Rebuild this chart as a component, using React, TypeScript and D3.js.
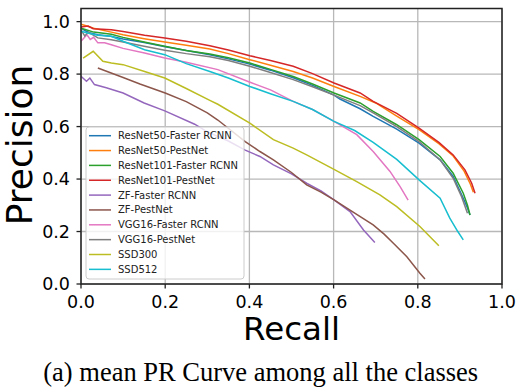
import React from "react";
import * as d3 from "d3";

// PR curves: [recall, precision]
const resnet50Faster: [number, number][] = [
  [0, 0.976], [0.01, 0.965], [0.02, 0.958], [0.04, 0.95], [0.07, 0.944], [0.1, 0.934],
  [0.15, 0.92], [0.2, 0.904], [0.25, 0.89], [0.306, 0.874], [0.35, 0.858], [0.401, 0.838],
  [0.45, 0.815], [0.504, 0.786], [0.55, 0.757], [0.601, 0.72], [0.615, 0.705], [0.663, 0.668],
  [0.694, 0.639], [0.75, 0.59], [0.803, 0.537], [0.853, 0.473], [0.884, 0.41], [0.908, 0.327],
  [0.918, 0.29], [0.924, 0.263],
];
const resnet50Pest: [number, number][] = [
  [0, 0.99], [0.01, 0.985], [0.03, 0.975], [0.072, 0.96], [0.1, 0.95], [0.15, 0.935],
  [0.199, 0.922], [0.25, 0.91], [0.306, 0.896], [0.35, 0.878], [0.401, 0.855], [0.45, 0.834],
  [0.504, 0.81], [0.55, 0.785], [0.601, 0.753], [0.663, 0.715], [0.7, 0.69], [0.75, 0.64],
  [0.803, 0.588], [0.85, 0.535], [0.884, 0.488], [0.91, 0.43], [0.925, 0.38], [0.932, 0.35],
];
const resnet101Faster: [number, number][] = [
  [0, 0.975], [0.01, 0.97], [0.03, 0.96], [0.072, 0.952], [0.1, 0.94], [0.15, 0.922],
  [0.199, 0.906], [0.25, 0.89], [0.306, 0.877], [0.35, 0.862], [0.401, 0.842], [0.45, 0.818],
  [0.504, 0.791], [0.55, 0.762], [0.601, 0.728], [0.663, 0.69], [0.694, 0.658], [0.75, 0.607],
  [0.803, 0.55], [0.853, 0.486], [0.884, 0.422], [0.908, 0.346], [0.918, 0.3], [0.924, 0.263],
];
const resnet101Pest: [number, number][] = [
  [0, 0.979], [0.017, 0.983], [0.029, 0.973], [0.072, 0.969], [0.1, 0.962], [0.151, 0.948],
  [0.199, 0.938], [0.25, 0.925], [0.306, 0.908], [0.35, 0.892], [0.401, 0.87], [0.45, 0.852],
  [0.504, 0.83], [0.55, 0.802], [0.601, 0.766], [0.663, 0.728], [0.694, 0.696], [0.75, 0.65],
  [0.803, 0.594], [0.85, 0.54], [0.884, 0.492], [0.912, 0.435], [0.928, 0.384], [0.936, 0.346],
];
const zfFaster: [number, number][] = [
  [0, 0.792], [0.013, 0.773], [0.021, 0.785], [0.032, 0.76], [0.06, 0.748], [0.1, 0.728],
  [0.15, 0.69], [0.199, 0.66], [0.27, 0.609], [0.3, 0.58], [0.35, 0.545], [0.39, 0.51],
  [0.425, 0.486], [0.457, 0.454], [0.5, 0.42], [0.536, 0.384], [0.57, 0.355], [0.601, 0.321],
  [0.639, 0.276], [0.671, 0.206], [0.698, 0.158],
];
const zfPest: [number, number][] = [
  [0.04, 0.823], [0.07, 0.805], [0.1, 0.787], [0.14, 0.762], [0.2, 0.728], [0.25, 0.695],
  [0.3, 0.652], [0.325, 0.625], [0.39, 0.543], [0.425, 0.505], [0.457, 0.473], [0.5, 0.425],
  [0.536, 0.378], [0.57, 0.35], [0.601, 0.321], [0.639, 0.282], [0.694, 0.225], [0.72, 0.19],
  [0.742, 0.155], [0.774, 0.104], [0.805, 0.041], [0.817, 0.019],
];
const vggFaster: [number, number][] = [
  [0, 0.925], [0.014, 0.95], [0.022, 0.932], [0.03, 0.94], [0.04, 0.919], [0.056, 0.919],
  [0.072, 0.912], [0.1, 0.898], [0.151, 0.88], [0.199, 0.861], [0.25, 0.845], [0.325, 0.817],
  [0.4, 0.77], [0.45, 0.74], [0.504, 0.696], [0.55, 0.665], [0.601, 0.62], [0.655, 0.569],
  [0.694, 0.505], [0.734, 0.429], [0.758, 0.371], [0.777, 0.32],
];
const vggPest: [number, number][] = [
  [0, 0.969], [0.009, 0.945], [0.017, 0.96], [0.04, 0.938], [0.072, 0.931], [0.1, 0.922],
  [0.15, 0.906], [0.199, 0.891], [0.25, 0.878], [0.306, 0.866], [0.35, 0.852], [0.401, 0.83],
  [0.45, 0.806], [0.504, 0.779], [0.55, 0.752], [0.601, 0.72], [0.663, 0.68], [0.694, 0.652],
  [0.75, 0.6], [0.803, 0.543], [0.853, 0.473], [0.884, 0.403], [0.904, 0.333], [0.918, 0.27],
];
const ssd300: [number, number][] = [
  [0.005, 0.861], [0.029, 0.887], [0.052, 0.849], [0.072, 0.842], [0.1, 0.836], [0.151, 0.81],
  [0.199, 0.785], [0.25, 0.745], [0.306, 0.7], [0.325, 0.685], [0.401, 0.613], [0.457, 0.55],
  [0.504, 0.518], [0.536, 0.492], [0.601, 0.437], [0.655, 0.39], [0.71, 0.34], [0.75, 0.295],
  [0.805, 0.219], [0.85, 0.146],
];
const ssd512: [number, number][] = [
  [0, 0.963], [0.02, 0.955], [0.04, 0.948], [0.072, 0.944], [0.1, 0.925], [0.151, 0.893],
  [0.199, 0.874], [0.25, 0.84], [0.306, 0.81], [0.35, 0.785], [0.401, 0.753], [0.45, 0.725],
  [0.504, 0.696], [0.55, 0.665], [0.601, 0.62], [0.65, 0.585], [0.694, 0.54], [0.75, 0.475],
  [0.803, 0.397], [0.853, 0.327], [0.876, 0.251], [0.895, 0.2], [0.908, 0.168],
];

const seriesNames = [
  "ResNet50-Faster RCNN", "ResNet50-PestNet", "ResNet101-Faster RCNN", "ResNet101-PestNet",
  "ZF-Faster RCNN", "ZF-PestNet", "VGG16-Faster RCNN", "VGG16-PestNet", "SSD300", "SSD512",
];
const seriesData = [
  resnet50Faster, resnet50Pest, resnet101Faster, resnet101Pest,
  zfFaster, zfPest, vggFaster, vggPest, ssd300, ssd512,
];
const colors = d3.schemeCategory10;
const ticks = [0, 0.2, 0.4, 0.6, 0.8, 1.0];

export default function App() {
  const left = 81, right = 502, top = 8.5, bottom = 284;
  const x = d3.scaleLinear().domain([0, 1]).range([left, right]);
  const y = d3.scaleLinear().domain([0, 1.05]).range([bottom, top]);
  const line = d3.line<[number, number]>().x((d) => x(d[0])).y((d) => y(d[1]));
  const tickFont = { fontFamily: "DejaVu Sans", fontSize: 17.5 };

  return (
    <svg width={518} height={387} style={{ position: "absolute", left: 0, top: 0, background: "#fff" }}>
      {/* grid */}
      {ticks.map((t) => (
        <g key={"g" + t}>
          <line x1={x(t)} x2={x(t)} y1={top} y2={bottom} stroke="#b8b8b8" strokeWidth={1.3} />
          <line x1={left} x2={right} y1={y(t)} y2={y(t)} stroke="#b8b8b8" strokeWidth={1.3} />
        </g>
      ))}

      {/* curves */}
      <g clipPath="url(#plotclip)">
        {seriesData.map((d, i) => (
          <path key={seriesNames[i]} d={line(d) || ""} fill="none" stroke={colors[i]} strokeWidth={1.5} />
        ))}
      </g>
      <defs>
        <clipPath id="plotclip">
          <rect x={left} y={top} width={right - left} height={bottom - top} />
        </clipPath>
      </defs>

      {/* legend */}
      <rect x={86} y={127} width={158} height={152} rx={3} fill="#fff" fillOpacity={0.8} stroke="#cccccc" strokeWidth={1} />
      {seriesNames.map((name, i) => {
        const ly = 135.7 + i * 14.85;
        return (
          <g key={"l" + name}>
            <line x1={89} x2={111} y1={ly} y2={ly} stroke={colors[i]} strokeWidth={1.5} />
            <text x={118} y={ly} dy="0.35em" fontFamily="DejaVu Sans" fontSize={10} fill="#222">
              {name}
            </text>
          </g>
        );
      })}

      {/* frame */}
      <rect x={left} y={top} width={right - left} height={bottom - top} fill="none" stroke="#222" strokeWidth={1.5} />

      {/* ticks */}
      {ticks.map((t) => (
        <g key={"t" + t}>
          <line x1={left - 4.5} x2={left} y1={y(t)} y2={y(t)} stroke="#222" strokeWidth={1.3} />
          <text x={70} y={y(t)} dy="0.36em" textAnchor="end" {...tickFont}>{t.toFixed(1)}</text>
          <line x1={x(t)} x2={x(t)} y1={bottom} y2={bottom + 4.5} stroke="#222" strokeWidth={1.3} />
          <text x={x(t)} y={307.5} textAnchor="middle" {...tickFont}>{t.toFixed(1)}</text>
        </g>
      ))}

      {/* axis labels */}
      <text x={(left + right) / 2} y={339.5} textAnchor="middle" fontFamily="DejaVu Sans" fontSize={32.5}>Recall</text>
      <text transform={`translate(32,${(63 + 227) / 2}) rotate(-90)`} textAnchor="middle" fontFamily="DejaVu Sans" fontSize={36}>
        Precision
      </text>

      {/* caption */}
      <text x={260.7} y={381} textAnchor="middle" fontFamily="Liberation Serif" fontSize={26.5}>
        (a) mean PR Curve among all the classes
      </text>
    </svg>
  );
}
